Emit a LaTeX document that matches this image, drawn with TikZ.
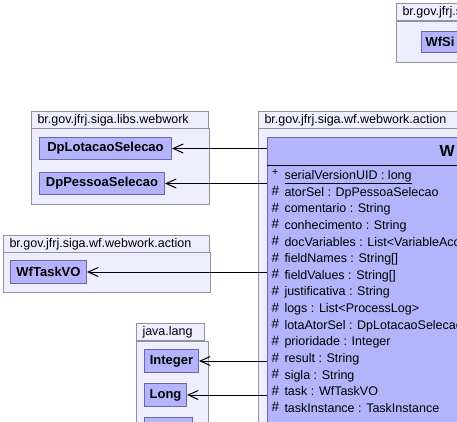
\documentclass[tikz,border=0pt]{standalone}
\usepackage{fontspec}
\setmainfont{Liberation Sans}
\usepackage{xcolor}
\usetikzlibrary{arrows.meta, positioning}

\definecolor{pkgfill}{RGB}{238,238,255}
\definecolor{pkgline}{RGB}{145,145,155}
\definecolor{boxfill}{RGB}{180,180,252}
\definecolor{boxline}{RGB}{105,105,165}

\begin{document}
\begin{tikzpicture}[x=1pt, y=-1pt, line width=1pt, font=\fontsize{12.5}{14}\selectfont,
        pkgtab/.style={draw=pkgline, fill=pkgfill, anchor=north west, inner xsep=6pt, inner ysep=0pt,
            minimum height=17pt, text width=#1, align=left},
        pkgbody/.style={draw=pkgline, fill=pkgfill, anchor=north west, inner sep=0pt},
        clsbox/.style={draw=boxline, fill=boxfill, anchor=north west, inner sep=0pt, minimum height=22pt,
            font=\fontsize{13}{15}\selectfont\bfseries},
        attr/.style={anchor=base west, inner sep=0pt},
        assoc/.style={-{Straight Barb[length=10pt, width=9pt]}}]
        \clip (0,0) rectangle (457,422);

        % packages
        \node[pkgtab=100pt] (toptab) at (396,3) {br.gov.jfrj.siga};
        \node[pkgbody, minimum width=100pt, minimum height=41pt] (toppkg) at (396,21) {};
        \node[pkgtab=165pt] (libstab) at (31,111) {br.gov.jfrj.siga.libs.webwork};
        \node[pkgbody, minimum width=178pt, minimum height=76pt] (libspkg) at (31,128) {};
        \node[pkgtab=194pt] (acttab) at (3,235) {br.gov.jfrj.siga.wf.webwork.action};
        \node[pkgbody, minimum width=207pt, minimum height=40pt] (actpkg) at (3,252) {};
        \node[pkgtab=56pt] (langtab) at (136,323) {java.lang};
        \node[pkgbody, minimum width=72pt, minimum height=120pt] (langpkg) at (136,341) {};
        \node[pkgtab=250pt] (wftab) at (258,111) {br.gov.jfrj.siga.wf.webwork.action};
        \node[pkgbody, minimum width=250pt, minimum height=320pt] (wfpkg) at (258,128) {};

        % classes
        \node[clsbox, minimum height=21pt, text width=80pt, inner xsep=4pt, align=left] (wfsi) at (421,31) {WfSi};
        \node[clsbox, minimum width=132pt] (lota) at (39,137) {DpLotacaoSelecao};
        \node[clsbox, minimum width=125pt] (pessoa) at (39,172) {DpPessoaSelecao};
        \node[clsbox, minimum width=76pt, minimum height=23pt] (task) at (10,260) {WfTaskVO};
        \node[clsbox, minimum width=54pt, minimum height=23pt] (int) at (144,349) {Integer};
        \node[clsbox, minimum width=42pt, minimum height=23pt] (long) at (144,383) {Long};
        \node[clsbox, minimum width=48pt, minimum height=23pt] (more) at (144,417) {};

        \node[clsbox, minimum width=300pt, minimum height=400pt] (cls) at (267,137) {};
        \draw (cls.north west) ++(0,28) -- ++(300,0);
        \node[anchor=west, inner sep=0pt, font=\fontsize{16}{18}\selectfont\bfseries] (clsname) at (439,151) {W};

        % attributes
        \node[attr, font=\fontsize{10.5}{12}\selectfont] at (271.5,175.5) {+};
        \node[attr] at (284,179.5) {\underline{serialVersionUID : long}};
        \foreach \txt [count=\i] in {{atorSel : DpPessoaSelecao}, {comentario : String},
                {conhecimento : String}, {docVariables : List<VariableAcc}, {fieldNames : String[]},
                {fieldValues : String[]}, {justificativa : String}, {logs : List<ProcessLog>},
                {lotaAtorSel : DpLotacaoSelecao}, {prioridade : Integer}, {result : String},
                {sigla : String}, {task : WfTaskVO}, {taskInstance : TaskInstance}} {
            \node[attr, font=\fontsize{13.5}{14}\selectfont] at (271,179+\i*16.64) {\#};
            \node[attr] at (284,179.5+\i*16.64) {\txt};
        }

        % associations
        \draw[assoc] (cls.west |- lota.east) -- (lota.east);
        \draw[assoc] (cls.west |- pessoa.east) -- (pessoa.east);
        \draw[assoc] (cls.west |- task.east) -- (task.east);
        \draw[assoc] (cls.west |- int.east) -- (int.east);
        \draw[assoc] (cls.west |- long.east) -- (long.east);
\end{tikzpicture}
\end{document}
